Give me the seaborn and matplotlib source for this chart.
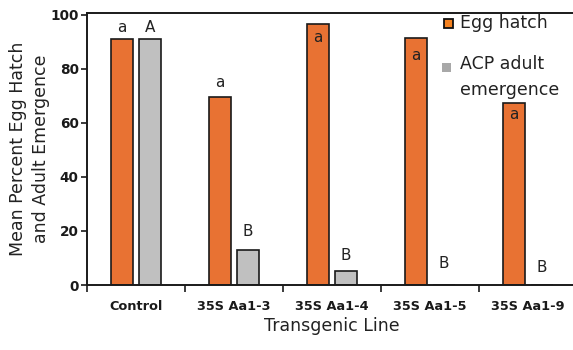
import matplotlib
matplotlib.use("Agg")
import matplotlib.pyplot as plt
from matplotlib.patches import Rectangle
from matplotlib.ticker import FixedLocator
import seaborn as sns
import pandas as pd

# Data: mean percent egg hatch and ACP adult emergence per transgenic line
lines = ["Control", "35S Aa1-3", "35S Aa1-4", "35S Aa1-5", "35S Aa1-9"]
egg_hatch = [91.0, 69.5, 96.5, 91.5, 67.5]
adult_emergence = [91.0, 13.0, 5.3, 0.0, 0.0]

# Significance letters and their heights
egg_letters = ["a", "a", "a", "a", "a"]
egg_letter_y = [95.3, 74.9, 91.5, 84.8, 63.3]
adult_letters = ["A", "B", "B", "B", "B"]
adult_letter_y = [95.3, 19.7, 11.1, 8.1, 6.3]

series_names = ["Egg hatch", "ACP adult emergence"]
yticks = [0, 20, 40, 60, 80, 100]

df = pd.DataFrame({
    "line": lines * 2,
    "measure": [series_names[0]] * len(lines) + [series_names[1]] * len(lines),
    "value": egg_hatch + adult_emergence,
})

sns.set_theme(style="white")
plt.rcParams["font.family"] = ["DejaVu Sans"]

fig = plt.figure(figsize=(5.73, 3.5), dpi=100)
ax = fig.add_axes([0.1518, 0.1857, 0.855, 0.777])

orange = "#E87233"
gray = "#C0C0C0"
sns.barplot(data=df, x="line", y="value", hue="measure", order=lines,
            hue_order=series_names, palette=[orange, gray], saturation=1,
            width=0.56, gap=0.2, edgecolor="#1a1a1a", linewidth=1.2,
            legend=False, errorbar=None, ax=ax)

ax.set_ylim(0, 100.7)
ax.set_xlim(-0.5, len(lines) - 0.5)
ax.set_yticks(yticks)
ax.set_yticklabels([str(t) for t in yticks], fontweight="bold", fontsize=9.8)
ax.set_xticks(range(len(lines)))
ax.set_xticklabels(lines, fontweight="bold", fontsize=9.3)
ax.xaxis.set_minor_locator(FixedLocator([i - 0.5 for i in range(len(lines) + 1)]))
ax.tick_params(axis="x", which="major", length=0, pad=11, colors="#1a1a1a")
ax.tick_params(axis="x", which="minor", bottom=True, length=5, width=1.2, color="#1a1a1a")
ax.tick_params(axis="y", which="major", left=True, length=4, width=1.2, pad=2,
               color="#1a1a1a", labelcolor="#1a1a1a")

for side in ["left", "bottom", "top"]:
    ax.spines[side].set_visible(True)
    ax.spines[side].set_color("#1a1a1a")
    ax.spines[side].set_linewidth(1.4)
ax.spines["right"].set_visible(False)

ax.set_xlabel("Transgenic Line", fontsize=12.5, color="#222222", labelpad=3)
ax.set_ylabel("Mean Percent Egg Hatch\nand Adult Emergence", fontsize=12.5,
              color="#222222", labelpad=0.5, linespacing=1.35)

# Letters above / inside bars, placed over the bar centres
bars = ax.patches
n = len(lines)
for i in range(n):
    b_egg = bars[i]
    b_ad = bars[n + i]
    ax.text(b_egg.get_x() + b_egg.get_width() / 2, egg_letter_y[i], egg_letters[i],
            ha="center", va="center", fontsize=11, color="#222222")
    ax.text(b_ad.get_x() + b_ad.get_width() / 2, adult_letter_y[i], adult_letters[i],
            ha="center", va="center", fontsize=11, color="#222222")

# Legend drawn in figure pixels
W, H = 573, 350
def fx(px):
    return px / W
def fy(py):
    return 1 - py / H

fig.patches.append(Rectangle((fx(443.5), fy(28)), 9 / W, 9 / H, transform=fig.transFigure,
                             facecolor="#F58220", edgecolor="#111111", linewidth=1.3))
fig.text(fx(460), fy(23.5), "Egg hatch", fontsize=12.5, va="center", ha="left", color="#222222")
fig.patches.append(Rectangle((fx(442), fy(72)), 9 / W, 9 / H, transform=fig.transFigure,
                             facecolor="#A8A8A8", edgecolor="none"))
fig.text(fx(460), fy(77), "ACP adult\nemergence", fontsize=12.5, va="center", ha="left",
         color="#222222", linespacing=1.55)

fig.savefig("out.png", dpi=100)
